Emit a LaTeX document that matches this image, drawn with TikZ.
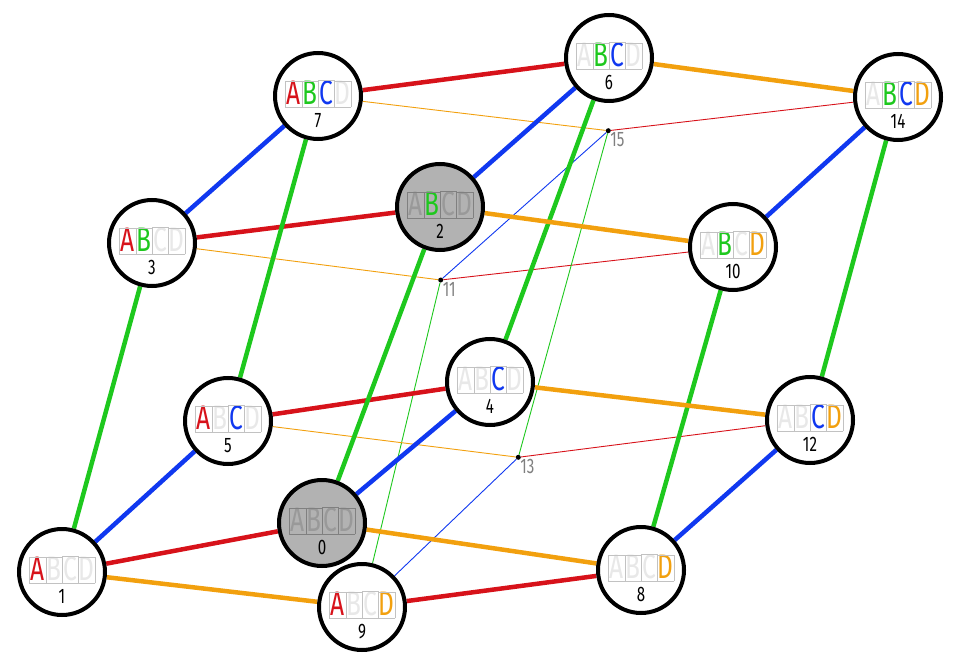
\documentclass[tikz,border=0pt]{standalone}
\usepackage{fontspec}
\newfontfamily\condfont[FakeStretch=0.72]{Fira Sans}
\usetikzlibrary{backgrounds}

\definecolor{bitA}{HTML}{D7121A}
\definecolor{bitB}{HTML}{1EC81E}
\definecolor{bitC}{HTML}{1038F0}
\definecolor{bitD}{HTML}{F2A00E}
\colorlet{cellmute}{black!9}
\colorlet{cellframe}{black!24}
\colorlet{nodegray}{black!30}

\newcommand{\bitfont}{\condfont\fontsize{34}{34}\selectfont}
\newcommand{\cell}[3]{{\color{cellframe}\fbox{\makebox[15.6pt]{\rule[-2pt]{0pt}{24pt}\ifnum#1=1 \color{#2}\else\color{cellmute}\fi#3}}}\kern-\fboxrule}
\newcommand{\abcd}[4]{\setlength{\fboxsep}{0pt}\setlength{\fboxrule}{0.7pt}%
  \cell{#1}{bitA}{A}\cell{#2}{bitB}{B}\cell{#3}{bitC}{C}\cell{#4}{bitD}{D}}

\begin{document}
\begin{tikzpicture}[
    x=1pt, y=-1pt,
    bitrow/.style={inner sep=0pt, yshift=2pt, font=\bitfont},
    graybits/.style={bitrow, font=\bitfont\colorlet{cellmute}{black!40}\colorlet{cellframe}{black!50}},
    numrow/.style={inner sep=0pt, yshift=-24.5pt, font=\condfont\fontsize{21}{21}\selectfont},
    vtx/.style 2 args={circle, draw, line width=4pt, minimum size=86pt, fill=white,
        label={[bitrow]center:\abcd#1}, label={[numrow]center:#2}},
    gvtx/.style 2 args={circle, draw, line width=4pt, minimum size=86pt, fill=nodegray,
        label={[graybits]center:\abcd#1}, label={[numrow]center:#2}},
    dot/.style={circle, fill=black, inner sep=0pt, minimum size=5pt, label distance=2.5pt},
    dotnum/.style={inner sep=0pt, text=black!50, font=\condfont\fontsize{21}{21}\selectfont},
    fat/.style={line width=4.5pt},
    fine/.style={line width=0.9pt}
]
\useasboundingbox (0,0) rectangle (960,668);

% vertices
\node[gvtx={0000}{0}] (v0) at (322,523) {};
\node[vtx={1000}{1}] (v1) at (62,572) {};
\node[gvtx={0100}{2}] (v2) at (440,207) {};
\node[vtx={1100}{3}] (v3) at (152,243) {};
\node[vtx={0010}{4}] (v4) at (490,382) {};
\node[vtx={1010}{5}] (v5) at (228,421) {};
\node[vtx={0110}{6}] (v6) at (609,58) {};
\node[vtx={1110}{7}] (v7) at (318,96) {};
\node[vtx={0001}{8}] (v8) at (641,570) {};
\node[vtx={1001}{9}] (v9) at (362,607) {};
\node[vtx={0101}{10}] (v10) at (733,247) {};
\node[dot, label={[dotnum]south east:11}] (v11) at (440.7,280) {};
\node[vtx={0011}{12}] (v12) at (810,420) {};
\node[dot, label={[dotnum]south east:13}] (v13) at (518.3,457.3) {};
\node[vtx={0111}{14}] (v14) at (898,97) {};
\node[dot, label={[dotnum]south east:15}] (v15) at (608.3,130.7) {};

% edges, coloured by the flipped letter
\begin{scope}[on background layer]
\foreach \a/\b in {10/11,12/13,14/15} \draw[fine, draw=bitA] (v\a) -- (v\b);
\foreach \a/\b in {9/11,13/15} \draw[fine, draw=bitB] (v\a) -- (v\b);
\foreach \a/\b in {9/13,11/15} \draw[fine, draw=bitC] (v\a) -- (v\b);
\foreach \a/\b in {3/11,5/13,7/15} \draw[fine, draw=bitD] (v\a) -- (v\b);
\foreach \a/\b in {0/1,2/3,4/5,6/7,8/9} \draw[fat, draw=bitA] (v\a) -- (v\b);
\foreach \a/\b in {1/3,5/7,0/2,4/6,8/10,12/14} \draw[fat, draw=bitB] (v\a) -- (v\b);
\foreach \a/\b in {1/5,3/7,0/4,2/6,8/12,10/14} \draw[fat, draw=bitC] (v\a) -- (v\b);
\foreach \a/\b in {1/9,0/8,2/10,4/12,6/14} \draw[fat, draw=bitD] (v\a) -- (v\b);
\end{scope}

\end{tikzpicture}
\end{document}
